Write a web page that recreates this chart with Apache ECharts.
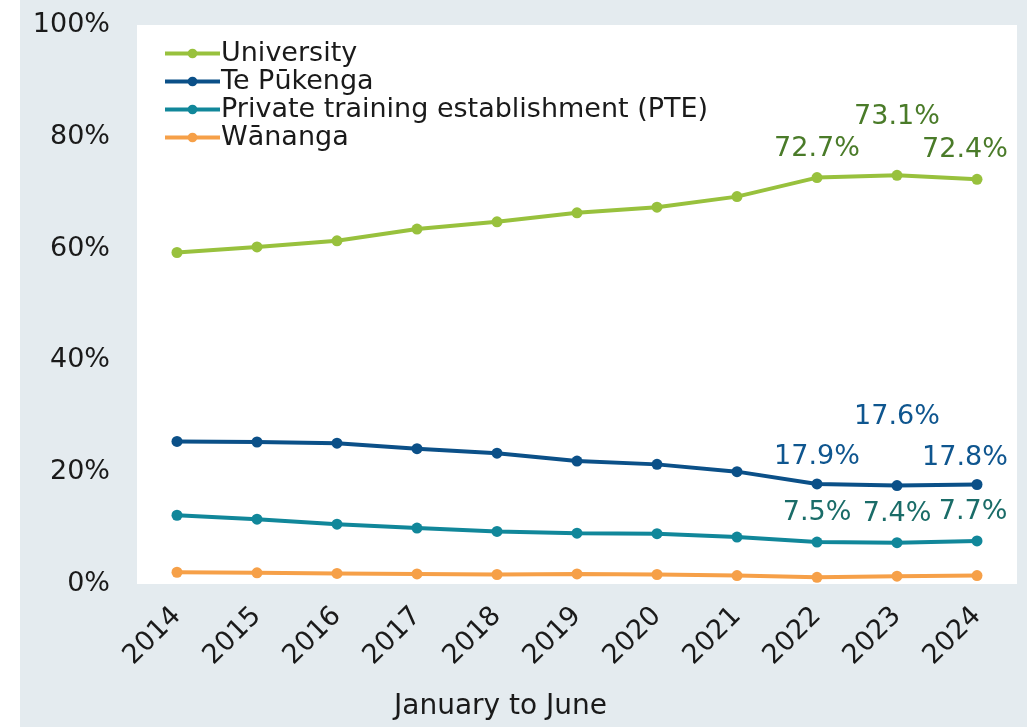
<!DOCTYPE html>
<html>
<head>
<meta charset="utf-8">
<script src="https://cdn.jsdelivr.net/npm/echarts@6/dist/echarts.min.js"></script>
<style>
  html, body { margin: 0; padding: 0; background: #ffffff; }
  #main { position: absolute; left: 20px; top: 0; width: 1007px; height: 727px; }
</style>
</head>
<body>
<div id="main"></div>
<script>
// data
var years = ['2014', '2015', '2016', '2017', '2018', '2019', '2020', '2021', '2022', '2023', '2024'];
var university = [59.3, 60.3, 61.4, 63.5, 64.8, 66.4, 67.4, 69.3, 72.7, 73.1, 72.4];
var tePukenga = [25.5, 25.4, 25.2, 24.2, 23.4, 22.0, 21.4, 20.1, 17.9, 17.6, 17.8];
var pte = [12.3, 11.6, 10.7, 10.0, 9.4, 9.1, 9.0, 8.4, 7.5, 7.4, 7.7];
var wananga = [2.1, 2.0, 1.9, 1.8, 1.7, 1.8, 1.7, 1.5, 1.2, 1.4, 1.5];
var yTicks = [0, 20, 40, 60, 80, 100];

var FONT = 'DejaVu Sans';
var FS = 27;

// label the last three points, 2023 lifted above its neighbours
function withLabels(values, color, dist, lift, lastShift) {
  return values.map(function (v, i) {
    if (i < values.length - 3) return v;
    var d = dist;
    if (i === values.length - 2) d = dist + lift;
    return {
      value: v,
      label: {
        show: true,
        position: 'top',
        distance: d,
        offset: i === values.length - 1 ? [lastShift, 0] : [0, 0],
        color: color,
        fontSize: FS,
        fontFamily: FONT,
        formatter: function (p) { return p.value.toFixed(1) + '%'; }
      }
    };
  });
}

function lineSeries(name, color, data) {
  return {
    name: name,
    type: 'line',
    data: data,
    symbol: 'circle',
    symbolSize: 11,
    lineStyle: { width: 4, color: color },
    itemStyle: { color: color },
    emphasis: { disabled: true },
    animation: false
  };
}

var chart = echarts.init(document.getElementById('main'));

var option = {
  backgroundColor: '#e4ebef',
  animation: false,
  title: {
    text: 'January to June',
    left: 369,
    top: 688,
    textStyle: { fontFamily: FONT, fontSize: 28, fontWeight: 'normal', color: '#1a1a1a' }
  },
  legend: {
    orient: 'vertical',
    left: 138,
    top: 35,
    itemWidth: 55,
    itemHeight: 12,
    itemGap: 1,
    lineStyle: { width: 4 },
    data: ['University', 'Te Pūkenga', 'Private training establishment (PTE)', 'Wānanga'],
    textStyle: { fontFamily: FONT, fontSize: FS, color: '#1a1a1a', lineHeight: 27, padding: [0, 0, 0, -4] }
  },
  grid: {
    left: 117,
    right: 10,
    top: 25,
    bottom: 143,
    show: true,
    backgroundColor: '#ffffff',
    borderWidth: 0
  },
  xAxis: {
    type: 'category',
    data: years,
    boundaryGap: true,
    axisLine: { show: false },
    axisTick: { show: false },
    axisLabel: {
      rotate: 45,
      margin: 28,
      fontFamily: FONT,
      fontSize: FS,
      color: '#1a1a1a'
    }
  },
  yAxis: {
    type: 'value',
    min: yTicks[0],
    max: yTicks[yTicks.length - 1],
    interval: yTicks[1] - yTicks[0],
    splitLine: { show: false },
    axisLine: { show: false },
    axisTick: { show: false },
    axisLabel: {
      margin: 27,
      fontFamily: FONT,
      fontSize: FS,
      color: '#1a1a1a',
      formatter: '{value}%'
    }
  },
  series: [
    lineSeries('University', '#98c13d', withLabels(university, '#4a7b29', 10, 29, -12)),
    lineSeries('Te Pūkenga', '#0b5088', withLabels(tePukenga, '#0f568f', 8, 42, -12)),
    lineSeries('Private training establishment (PTE)', '#11879a', withLabels(pte, '#1a6c68', 10, 0, -4)),
    lineSeries('Wānanga', '#f6a048', wananga)
  ]
};

chart.setOption(option);
</script>
</body>
</html>
